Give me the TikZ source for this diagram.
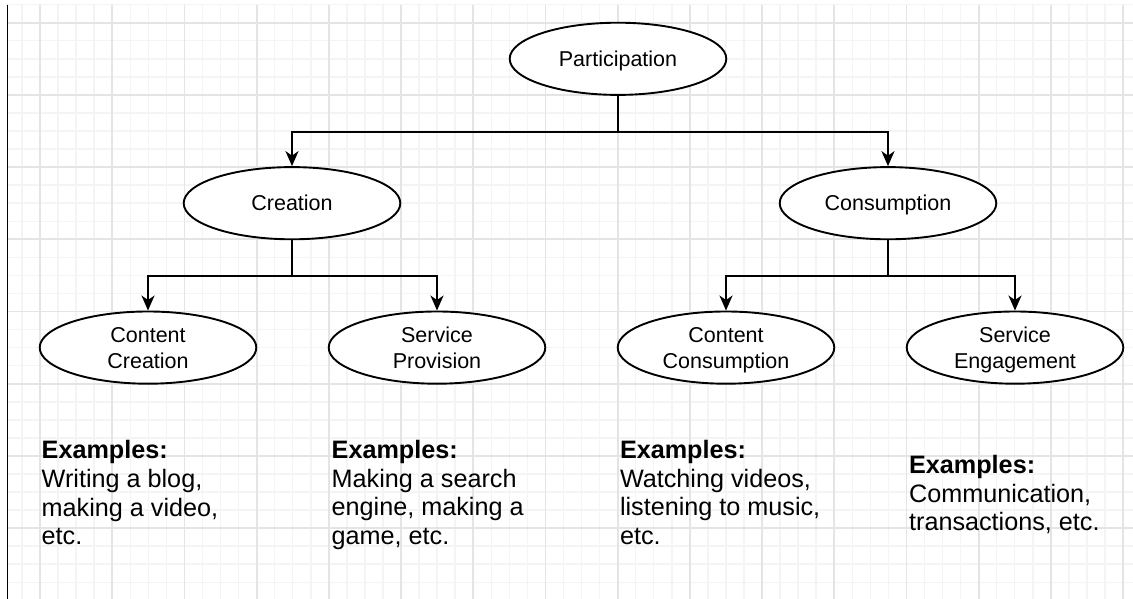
\documentclass[tikz,border=0pt]{standalone}
\usepackage{fontspec}
\setmainfont{Liberation Sans}
\usetikzlibrary{shapes.geometric,arrows.meta}
\definecolor{gridmajor}{RGB}{228,228,228}
\definecolor{gridminor}{RGB}{244,244,244}
% keep a line's height but drop its depth, so labels centre on their letters
\newcommand\nodepth[1]{\raisebox{0pt}[\height][0pt]{#1}}
\begin{document}
\begin{tikzpicture}[x=1pt,y=-1pt,
  oval/.style={ellipse,draw=black,fill=white,line width=1.9pt,
    minimum width=216.6pt,minimum height=72.2pt,inner sep=0pt,
    align=center,font=\fontsize{21.5}{26}\selectfont},
  link/.style={line width=2pt,
    -{Stealth[length=15pt,width=13pt,inset=4.5pt]}},
  examples/.style={anchor=north west,inner sep=0pt,align=left,
    font=\fontsize{25.2}{28.6}\selectfont}]
\useasboundingbox (0,0) rectangle (1133,599);
\fill[white] (0,0) rectangle (1133,599);

% background grid: fine lines every 18.05pt, heavier every fourth
\foreach \k in {1,...,62}
  \draw[gridminor,line width=1.5pt] ({3.9+18.05*\k},4.65) -- ({3.9+18.05*\k},599);
\foreach \k in {0,...,32}
  \draw[gridminor,line width=1.5pt] (7.3,{4.65+18.05*\k}) -- (1133,{4.65+18.05*\k});
\foreach \k in {2,6,...,62}
  \draw[gridmajor,line width=1.8pt] ({3.9+18.05*\k},4.65) -- ({3.9+18.05*\k},599);
\foreach \k in {1,5,...,29}
  \draw[gridmajor,line width=1.8pt] (7.3,{4.65+18.05*\k}) -- (1133,{4.65+18.05*\k});

% left margin rule
\draw[black,line width=1.6pt] (7.3,4.65) -- (7.3,599);

% hierarchy
\node[oval] (part) at (618,58.8) {\nodepth{Participation}};
\node[oval] (crea) at (292,203.2) {\nodepth{Creation}};
\node[oval] (cons) at (888,203.2) {\nodepth{Consumption}};
\node[oval] (cc)   at (148,347.6) {Content\\\nodepth{Creation}};
\node[oval] (sp)   at (437,347.6) {Service\\\nodepth{Provision}};
\node[oval] (ccon) at (726,347.6) {Content\\\nodepth{Consumption}};
\node[oval] (se)   at (1015,347.6) {Service\\\nodepth{Engagement}};

\draw[link] (part.south) -- ++(0,36.1) -| (crea.north);
\draw[link] (part.south) -- ++(0,36.1) -| (cons.north);
\draw[link] (crea.south) -- ++(0,36.1) -| (cc.north);
\draw[link] (crea.south) -- ++(0,36.1) -| (sp.north);
\draw[link] (cons.south) -- ++(0,36.1) -| (ccon.north);
\draw[link] (cons.south) -- ++(0,36.1) -| (se.north);

% example texts
\node[examples] (ex1) at (41.5,440.5)
  {\rule{0pt}{18pt}\textbf{Examples:}\\Writing a blog,\\making a video,\\etc.};
\node[examples] (ex2) at (331.5,440.3)
  {\rule{0pt}{18pt}\textbf{Examples:}\\Making a search\\engine, making a\\game, etc.};
\node[examples] (ex3) at (619.8,440.3)
  {\rule{0pt}{18pt}\textbf{Examples:}\\Watching videos,\\listening to music,\\etc.};
\node[examples] (ex4) at (908.9,455.3)
  {\rule{0pt}{18pt}\textbf{Examples:}\\Communication,\\transactions, etc.};
\end{tikzpicture}
\end{document}
